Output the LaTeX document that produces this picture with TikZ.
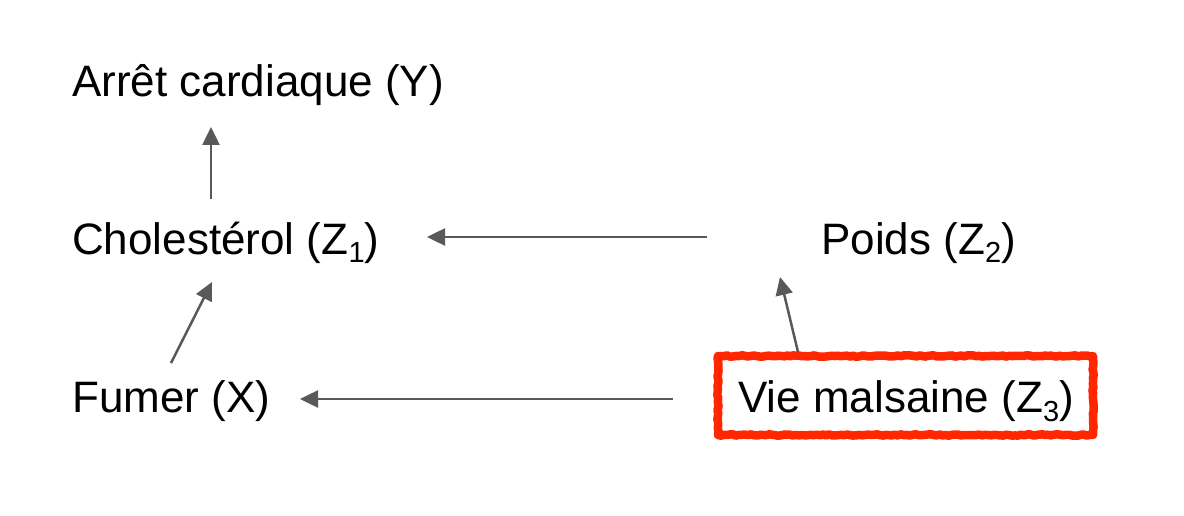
\documentclass[tikz,border=0pt]{standalone}
\usepackage{fontspec}
\setmainfont{Liberation Sans}
\usetikzlibrary{arrows.meta,decorations.pathmorphing}
\definecolor{boxred}{RGB}{255,38,0}
\newcommand\subidx[1]{\raisebox{-9pt}{\fontsize{29}{30}\selectfont #1}}
\begin{document}
\begin{tikzpicture}[x=1pt,y=-1pt,
  lbl/.style={anchor=base west,inner sep=0pt,font=\fontsize{44}{52}\selectfont,text=black},
  arr/.style={draw=black!65,line width=2.5pt,-{Triangle[length=18pt,width=17pt]}},
  redbox/.style={draw=boxred,line width=8.5pt,line join=round,
    decorate,decoration={random steps,segment length=3pt,amplitude=0.7pt}}]
\useasboundingbox[fill=white] (0,0) rectangle (1184,516);
\node[lbl] (Y) at (72,97) {Arrêt cardiaque (Y)};
\node[lbl] (Z1) at (72,254) {Cholestérol (Z\subidx{1})};
\node[lbl] (X) at (72,412) {Fumer (X)};
\node[lbl] (Z2) at (821,254) {Poids (Z\subidx{2})};
\node[lbl] (Z3) at (738,412) {Vie malsaine (Z\subidx{3})};
\draw[redbox] ([shift={(-20,-56)}]Z3.base west) rectangle ([shift={(355,23)}]Z3.base west);
\draw[arr] ([shift={(139,-55)}]Z1.base west) -- ([shift={(139,30)}]Y.base west);
\draw[arr] ([shift={(99,-49)}]X.base west) -- ([shift={(140,28)}]Z1.base west);
\draw[arr] ([shift={(-114,-17)}]Z2.base west) -- ([shift={(355,-17)}]Z1.base west);
\draw[arr] ([shift={(-65,-13)}]Z3.base west) -- ([shift={(228,-13)}]X.base west);
\draw[arr] ([shift={(60,-60)}]Z3.base west) -- ([shift={(-41,23)}]Z2.base west);
\end{tikzpicture}
\end{document}
